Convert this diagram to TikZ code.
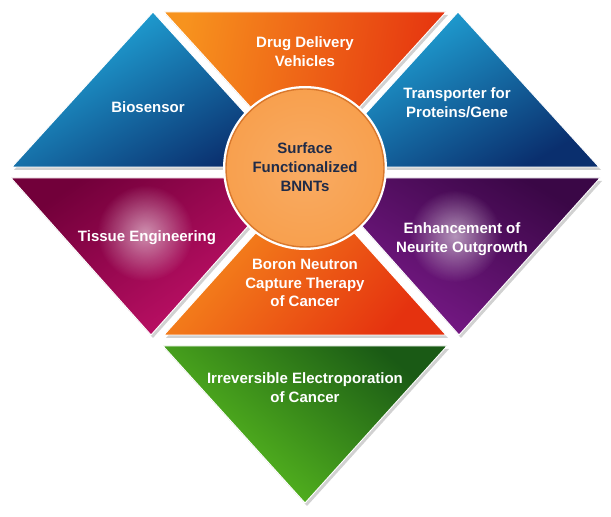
\documentclass[tikz,border=0pt]{standalone}
\usepackage{fontspec}
\setmainfont{Liberation Sans}
\usetikzlibrary{positioning, fadings}
\definecolor{bnnblue}{HTML}{22AEE0}
\definecolor{bnndeepblue}{HTML}{0A2F6E}
\definecolor{bnnorange}{HTML}{F7931E}
\definecolor{bnnred}{HTML}{E5320F}
\definecolor{bnnmaroon}{HTML}{72003A}
\definecolor{bnnpink}{HTML}{C8126C}
\definecolor{bnnplum}{HTML}{3A0746}
\definecolor{bnnviolet}{HTML}{7E1B8E}
\definecolor{bnndarkgreen}{HTML}{1A5A15}
\definecolor{bnngreen}{HTML}{5EC420}
\definecolor{bnncore}{HTML}{F8A04E}
\definecolor{bnnrim}{HTML}{D9782C}
\definecolor{bnnnavy}{HTML}{1F2B48}
\tikzfading[name=glowfade, inner color=transparent!45, outer color=transparent!100]

\begin{document}
\begin{tikzpicture}[x=0.03cm, y=-0.03cm,
  tile/.style={draw=white, line width=0.8pt, line join=round},
  tileshadow/.style={fill=black!18, line join=round},
  txt/.style={text=white, font=\bfseries\fontsize{12.8}{16}\selectfont, align=center},
  coretxt/.style={text=bnnnavy, font=\bfseries\fontsize{12.8}{16.5}\selectfont, align=center}]
  \useasboundingbox (0,0) rectangle (611,517);

  % soft shadows below the tiles
  \foreach \p in {{(12,167) -- (153,12) -- (294,167)},
                  {(164,12) -- (446,12) -- (305,167)},
                  {(317,167) -- (458,12) -- (599,167)},
                  {(11,178) -- (291,178) -- (151,335)},
                  {(164,335) -- (305,178) -- (446,335)},
                  {(319,178) -- (600,178) -- (459,335)},
                  {(163,346) -- (447,346) -- (305,503)}}
    \fill[tileshadow, shift={(2,3)}] \p -- cycle;

  % top row
  \shade[tile, top color=bnnblue, bottom color=bnndeepblue, shading angle=30]
    (12,167) -- (153,12) -- (294,167) -- cycle;
  \shade[tile, top color=bnnorange, bottom color=bnnred, shading angle=80]
    (164,12) -- (446,12) -- (305,167) -- cycle;
  \shade[tile, top color=bnnblue, bottom color=bnndeepblue, shading angle=30]
    (317,167) -- (458,12) -- (599,167) -- cycle;

  % middle row
  \shade[tile, top color=bnnmaroon, bottom color=bnnpink, shading angle=35]
    (11,178) -- (291,178) -- (151,335) -- cycle;
  \shade[tile, top color=bnnorange, bottom color=bnnred, shading angle=50]
    (164,335) -- (305,178) -- (446,335) -- cycle;
  \shade[tile, top color=bnnplum, bottom color=bnnviolet, shading angle=-30]
    (319,178) -- (600,178) -- (459,335) -- cycle;

  % glows
  \fill[white, path fading=glowfade] (145,233) circle (48);
  \fill[white, path fading=glowfade] (455,236) circle (46);

  % bottom tile
  \shade[tile, top color=bnndarkgreen, bottom color=bnngreen, shading angle=-40]
    (163,346) -- (447,346) -- (305,503) -- cycle;

  % centre disc
  \fill[white] (305,168) circle (82);
  \shade[draw=bnnrim, line width=1.2pt, inner color=bnncore!88!white, outer color=bnncore]
    (305,168) circle (79);

  \node[txt] (drug) at (305,52) {Drug Delivery\\Vehicles};
  \node[txt] (bio) at (148,107) {Biosensor};
  \node[txt] (trans) at (457,103) {Transporter for\\Proteins/Gene};
  \node[coretxt] (core) at (305,167) {Surface\\Functionalized\\BNNTs};
  \node[txt] (tissue) at (147,238) {Tissue Engineering};
  \node[txt] (neurite) at (462,239) {Enhancement of\\Neurite Outgrowth};
  \node[txt] (boron) at (305,283) {Boron Neutron\\Capture Therapy\\of Cancer};
  \node[txt] (ire) at (305,388) {Irreversible Electroporation\\of Cancer};
\end{tikzpicture}
\end{document}
